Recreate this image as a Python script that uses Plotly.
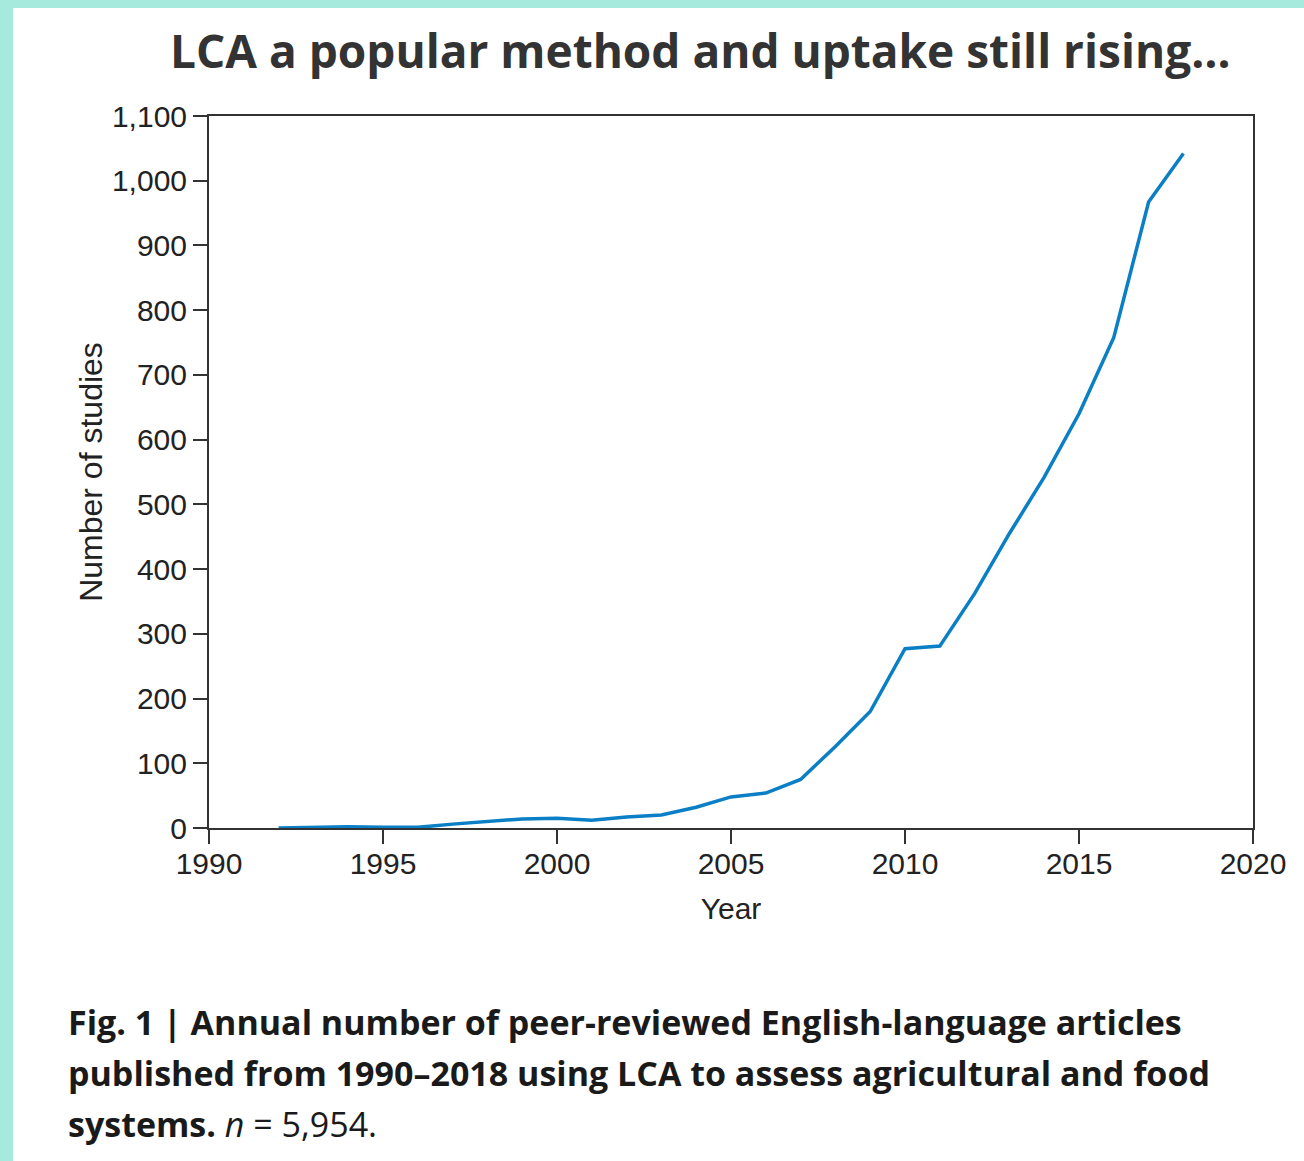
import plotly.graph_objects as go

years = list(range(1992, 2019))
studies = [0, 1, 2, 1, 1, 6, 10, 14, 15, 12, 17, 20, 32, 48, 54, 75, 126, 180,
           277, 281, 362, 455, 542, 640, 758, 967, 1042]
x_ticks = [1990, 1995, 2000, 2005, 2010, 2015, 2020]
y_ticks = list(range(0, 1101, 100))

title_text = "LCA a popular method and uptake still rising…"
caption_lines = [
    "<b>Fig. 1 | Annual number of peer-reviewed English-language articles</b>",
    "<b>published from 1990–2018 using LCA to assess agricultural and food</b>",
    "<b>systems.</b> <i>n</i> = 5,954.",
]

W, H = 1304, 1161
L, R, T, B = 209, 51, 116, 333
PW, PH = W - L - R, H - T - B


def px(xp):
    return (xp - L) / PW


def py(yp):
    return (H - B - yp) / PH


fig = go.Figure()
fig.add_trace(go.Scatter(x=years, y=studies, mode="lines",
                         line=dict(color="#0a7fc6", width=3.5),
                         showlegend=False, hoverinfo="x+y"))

tick_font = dict(family="Liberation Sans, Arial", size=30, color="#222222")
axis_common = dict(showline=True, linecolor="#333333", linewidth=2, mirror=True,
                   ticks="outside", ticklen=14, tickwidth=2, tickcolor="#333333",
                   showgrid=False, zeroline=False, tickfont=tick_font)

fig.update_xaxes(range=[1990, 2020], tickvals=x_ticks, ticklabelstandoff=-6,
                 title=dict(text="Year", font=dict(family="Liberation Sans, Arial", size=30, color="#222222"),
                            standoff=19),
                 **axis_common)
fig.update_yaxes(range=[0, 1100], tickvals=y_ticks, tickformat=",d",
                 title=dict(text="Number of studies", font=dict(family="Liberation Sans, Arial", size=32, color="#222222"),
                            standoff=0),
                 **axis_common)

shapes = [
    dict(type="rect", xref="paper", yref="paper", x0=px(0), x1=px(13), y0=py(0), y1=py(H),
         fillcolor="#a6e9dd", line=dict(width=0), layer="below"),
    dict(type="rect", xref="paper", yref="paper", x0=px(0), x1=px(W), y0=py(0), y1=py(8),
         fillcolor="#a6e9dd", line=dict(width=0), layer="below"),
]

annotations = [
    dict(text="<b>" + title_text + "</b>", x=px(700), y=py(50), xref="paper", yref="paper",
         xanchor="center", yanchor="middle", showarrow=False,
         font=dict(family="Open Sans", size=46, color="#333333")),
]
for i, line in enumerate(caption_lines):
    annotations.append(dict(text=line, x=px(66), y=py(1022 + i * 51), xref="paper", yref="paper",
                            xanchor="left", yanchor="middle", showarrow=False,
                            font=dict(family="Open Sans", size=34, color="#1a1a1a")))

fig.update_layout(width=W, height=H, margin=dict(l=L, r=R, t=T, b=B, autoexpand=False),
                  paper_bgcolor="white", plot_bgcolor="white",
                  shapes=shapes, annotations=annotations)

fig.write_html("out.html", config={"displayModeBar": False},
               post_script="document.body.style.margin='0px';")
